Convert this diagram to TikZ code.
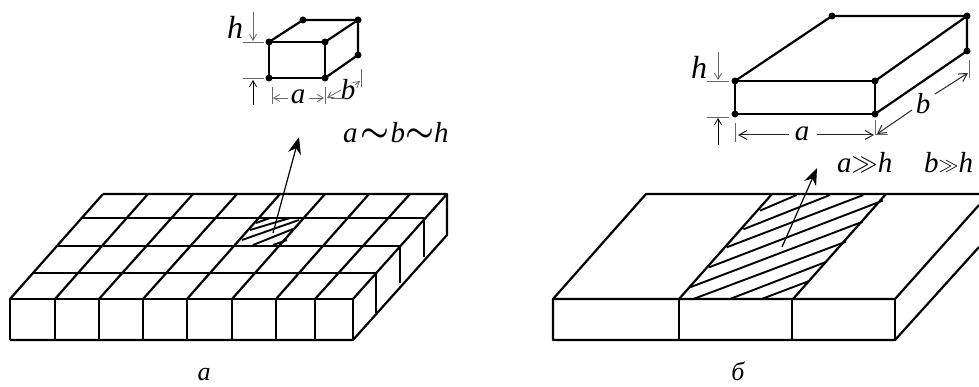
\documentclass[tikz,border=0pt]{standalone}
\usepackage{amsmath}
\usepackage{fontspec}
\setmainfont{Liberation Serif}
\usetikzlibrary{arrows.meta}
\tikzset{
  thickline/.style={line width=2.2pt,black,line join=round},
  hatchline/.style={line width=1.9pt,black},
  boxline/.style={line width=2.2pt,black,line join=round},
  pointer/.style={line width=1.2pt,black,-{Stealth[length=17pt,width=13pt]}},
  dimline/.style={line width=0.8pt,black!60},
  dimarrow/.style={dimline,-{Straight Barb[length=6pt,width=7pt]}},
  dimdark/.style={line width=1pt,black!85,-{Straight Barb[length=8pt,width=9pt]}},
  lab/.style={inner sep=0pt,font=\fontsize{29}{30}\selectfont\itshape},
  biglab/.style={inner sep=0pt,font=\fontsize{32}{34}\selectfont\itshape},
  captext/.style={inner sep=0pt,anchor=base,font=\fontsize{26}{26}\selectfont\itshape},
  dotpt/.style={circle,fill=black,inner sep=0pt,minimum size=7pt}
}
\begin{document}
\begin{tikzpicture}[x=1pt,y=-1pt]
\useasboundingbox (0,0) rectangle (979,387);
\clip (0,0) rectangle (979,387);
\fill[white] (0,0) rectangle (979,387);

% ---------- left slab ----------
\foreach \f/\b in {10/103,55/148,99/193,143/237,187/280,232/325,276/369,315/410,353/447}
  \draw[thickline] (\f,299) -- (\b,194);
\foreach \f in {10,55,99,143,187,232,276,315,353}
  \draw[thickline] (\f,299) -- (\f,340);
\draw[thickline] (10,340) -- (353,340) -- (447,235) -- (447,194) -- (103,194);
\draw[thickline] (10,299) -- (353,299);
\draw[thickline] (82,218) -- (424,218) -- (424,257);
\draw[thickline] (58,246) -- (400,246) -- (400,283);
\draw[thickline] (33,273) -- (376,273) -- (376,313);
% hatch on the left cell
\draw[hatchline] (256,223) -- (270,218);
\draw[hatchline] (250,230) -- (290,218);
\draw[hatchline] (242,240) -- (299,220);
\draw[hatchline] (253,245) -- (293,229);
\draw[hatchline] (273,245) -- (287,240);
\draw[pointer] (273,233) -- (299,137);

% ---------- right slab ----------
\draw[thickline] (979,205) -- (895,299) -- (553,299) -- (646,194) -- (979,194);
\draw[thickline] (553,299) -- (553,340) -- (895,340) -- (979,247);
\draw[thickline] (895,299) -- (895,340);
\draw[thickline] (679,299) -- (679,340);
\draw[thickline] (792,299) -- (792,340);
\draw[thickline] (679,299) -- (772,194);
\draw[thickline] (793,299) -- (886,194);
\foreach \xa/\ya/\xb/\yb in {
  750/122/860/75, 700/178/960/75, 650/232/1060/75, 597/292/1118/92,
  540/352/1058/155, 550/387/1008/215, 660/387/950/275, 755/387/900/332}
  \draw[hatchline] ({510+\xa/3},{170+\ya/3}) -- ({510+\xb/3},{170+\yb/3});
\draw[pointer] (782,247) -- (817,168);

% ---------- small element ----------
\coordinate (sftl) at (269,42);
\coordinate (sftr) at (325,42);
\coordinate (sfbl) at (269,78);
\coordinate (sfbr) at (325,78);
\coordinate (sbtl) at (303,20);
\coordinate (sbtr) at (358,20);
\coordinate (sbbr) at (358,55);
\draw[boxline] (sftl) -- (sftr) -- (sfbr) -- (sfbl) -- cycle;
\draw[boxline] (sftl) -- (sbtl) -- (sbtr) -- (sbbr) -- (sfbr);
\draw[boxline] (sftr) -- (sbtr);
\foreach \p in {sftl,sftr,sfbl,sfbr,sbtl,sbtr,sbbr} \node[dotpt] at (\p) {};
\node[biglab] (hl) at (235,27) {h};
\draw[dimarrow] (253,12) -- (253,41);
\draw[dimline] (243,42) -- (264,42);
\draw[dimline] (243,78) -- (264,78);
\draw[dimarrow,black] (253,105) -- (253,80);
\draw[dimline] (272,87) -- (272,104);
\draw[dimline] (325,87) -- (325,104);
\node[lab] (al) at (298,97) {a};
\draw[dimarrow] (288,98) -- (273,98);
\draw[dimarrow] (309,98) -- (324,98);
\draw[dimline] (361,69) -- (361,87);
\node[lab] (bl) at (348,90) {b};
\draw[dimarrow] (341,90) -- (327,98);
\draw[dimarrow] (355,85) -- (360,81);
\draw[dimline] (331,98) -- (345,98);
\node[lab,anchor=west] (rell) at (343,133) {a\hspace{3pt}\raisebox{1pt}{\scalebox{1.3}[1.3]{$\boldsymbol{\sim}$}}\hspace{1pt}b\raisebox{1pt}{\scalebox{1.3}[1.3]{$\boldsymbol{\sim}$}}h};

% ---------- flat element ----------
\coordinate (fftl) at (735,81);
\coordinate (fftr) at (875,81);
\coordinate (ffbl) at (735,114);
\coordinate (ffbr) at (875,114);
\coordinate (fbtl) at (832,16);
\coordinate (fbtr) at (967,16);
\coordinate (fbbr) at (967,51);
\draw[boxline] (fftl) -- (fftr) -- (ffbr) -- (ffbl) -- cycle;
\draw[boxline] (fftl) -- (fbtl) -- (fbtr) -- (fbbr) -- (ffbr);
\draw[boxline] (fftr) -- (fbtr);
\foreach \p in {fftl,fftr,ffbl,ffbr,fbtl,fbtr,fbbr} \node[dotpt] at (\p) {};
\node[biglab] (hr) at (699,67) {h};
\draw[dimarrow] (718,52) -- (718,80);
\draw[dimline] (707,81) -- (729,81);
\draw[dimline] (707,117) -- (729,117);
\draw[dimarrow,black] (718,145) -- (718,118);
\draw[dimline] (735,123) -- (735,142);
\draw[dimline] (875,120) -- (875,135);
\draw[dimline] (875,134) -- (888,134);
\node[lab] (ar) at (802,134) {a};
\draw[dimdark] (789,135) -- (738,135);
\draw[dimdark] (817,135) -- (874,135);
\draw[dimline] (969,60) -- (969,78);
\node[lab] (br) at (923,104) {b};
\draw[dimdark] (912,110) -- (877,134);
\draw[dimdark] (935,94) -- (968,73);
\node[lab,anchor=west] (relr1) at (837,163) {a\raisebox{1pt}{\scalebox{1.05}{$\gg$}}h};
\node[lab,anchor=west] (relr2) at (924,163) {b\raisebox{1pt}{\scalebox{.8}{$\gg$}}h};

% ---------- captions ----------
\node[captext] (capa) at (204,380) {а};
\node[captext] (capb) at (738,380) {б};
\end{tikzpicture}
\end{document}
